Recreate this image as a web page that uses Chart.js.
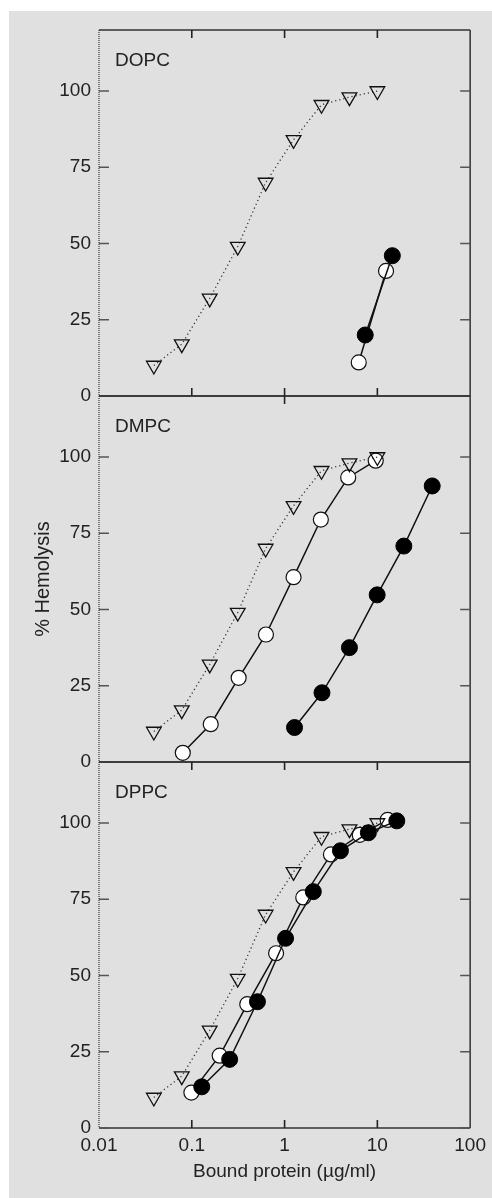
<!DOCTYPE html>
<html>
<head>
<meta charset="utf-8">
<script src="https://cdn.jsdelivr.net/npm/chart.js@4"></script>
<style>
  html, body { margin: 0; padding: 0; background: #fff; }
  #bg { position: absolute; left: 9px; top: 11px; width: 483px; height: 1187px; background: #e0e0e0; }
  #chart { position: absolute; left: 0; top: 0; }
</style>
</head>
<body>
<div id="bg"></div>
<canvas id="chart" width="492" height="1198"></canvas>
<script>
// tick labels
const xTicks = [0.01, 0.1, 1, 10, 100];
const yTicks = [0, 25, 50, 75, 100];
const panels = ['DOPC', 'DMPC', 'DPPC'];

// control (triangles), same in every panel
const triX = [0.039, 0.078, 0.156, 0.313, 0.625, 1.25, 2.5, 5, 10];
const triY = [10, 17, 32, 49, 70, 84, 95.5, 98, 100];

// DOPC
const dopcOpenX = [6.3, 12.4];
const dopcOpenY = [11, 41];
const dopcFillX = [7.4, 14.5];
const dopcFillY = [20, 46];

// DMPC
const dmpcOpenX = [0.08, 0.16, 0.32, 0.63, 1.25, 2.46, 4.85, 9.6];
const dmpcOpenY = [3, 12.4, 27.6, 41.8, 60.6, 79.5, 93.3, 98.8];
const dmpcFillX = [1.28, 2.53, 5.0, 9.95, 19.3, 39];
const dmpcFillY = [11.3, 22.7, 37.5, 54.8, 70.8, 90.5];

// DPPC
const dppcOpenX = [0.099, 0.2, 0.396, 0.81, 1.59, 3.16, 6.46, 12.9];
const dppcOpenY = [11.6, 23.7, 40.6, 57.3, 75.6, 89.7, 96.1, 101];
const dppcFillX = [0.128, 0.256, 0.51, 1.025, 2.04, 4.0, 8.0, 16.2];
const dppcFillY = [13.5, 22.5, 41.4, 62.2, 77.5, 90.9, 96.8, 100.7];

const pts = (xs, ys) => xs.map((x, i) => ({x, y: ys[i]}));
const FONT = "'Liberation Sans', Arial, sans-serif";
const INK = '#222';

function tri(axis) {
  return {
    data: pts(triX, triY), yAxisID: axis, order: 2,
    showLine: true, borderColor: '#333', borderWidth: 1.3, borderDash: [1.2, 3],
    pointStyle: 'triangle', rotation: 180, pointRadius: 8.5,
    pointBackgroundColor: 'rgba(0,0,0,0)', pointBorderColor: '#111', pointBorderWidth: 1.3
  };
}
function open(xs, ys, axis) {
  return {
    data: pts(xs, ys), yAxisID: axis, order: 3,
    showLine: true, borderColor: '#111', borderWidth: 1.5,
    pointRadius: 7.5, pointBackgroundColor: '#fff', pointBorderColor: '#111', pointBorderWidth: 1.2
  };
}
function fill(xs, ys, axis) {
  return {
    data: pts(xs, ys), yAxisID: axis, order: 1,
    showLine: true, borderColor: '#111', borderWidth: 1.5,
    pointRadius: 8, pointBackgroundColor: '#000', pointBorderColor: '#000', pointBorderWidth: 1
  };
}

// which x ticks get short inward marks at the top / bottom of each panel
const topMarks = [[0.1, 1, 10], [1], [0.1, 1, 10]];
const bottomMarks = [[0.1, 1, 10], [], [0.1, 1, 10]];

const framePlugin = {
  id: 'frame',
  beforeDatasetsDraw(chart) {
    const ctx = chart.ctx;
    const xs = chart.scales.x;
    const {left, right} = chart.chartArea;
    ['y1', 'y2', 'y3'].forEach((id, i) => {
      const s = chart.scales[id];
      const top = s.top, bottom = s.bottom;
      ctx.save();
      ctx.strokeStyle = '#333';
      ctx.lineWidth = 1.5;
      ctx.beginPath();
      ctx.moveTo(left, top); ctx.lineTo(right, top);
      ctx.moveTo(left, bottom); ctx.lineTo(right, bottom);
      ctx.moveTo(right, top); ctx.lineTo(right, bottom);
      ctx.stroke();
      // left axis looks stippled
      ctx.lineWidth = 1.2;
      ctx.setLineDash([1, 1]);
      ctx.beginPath();
      ctx.moveTo(left, top); ctx.lineTo(left, bottom);
      ctx.stroke();
      ctx.setLineDash([]);
      // y ticks inside on both sides
      ctx.lineWidth = 1.3;
      ctx.strokeStyle = '#555';
      ctx.beginPath();
      yTicks.forEach(v => {
        const py = s.getPixelForValue(v);
        ctx.moveTo(left, py); ctx.lineTo(left + 10, py);
        ctx.moveTo(right, py); ctx.lineTo(right - 10, py);
      });
      ctx.stroke();
      // x ticks inside
      ctx.strokeStyle = '#222';
      ctx.lineWidth = 1.6;
      ctx.beginPath();
      topMarks[i].forEach(v => {
        const px = xs.getPixelForValue(v);
        ctx.moveTo(px, top); ctx.lineTo(px, top + 8);
      });
      bottomMarks[i].forEach(v => {
        const px = xs.getPixelForValue(v);
        ctx.moveTo(px, bottom); ctx.lineTo(px, bottom - 8);
      });
      ctx.stroke();
      // panel name
      ctx.fillStyle = INK;
      ctx.font = '19px ' + FONT;
      ctx.textBaseline = 'alphabetic';
      ctx.fillText(panels[i], left + 16, top + 36);
      ctx.restore();
    });
  }
};

function yAxis(weight, title) {
  return {
    type: 'linear', position: 'left', stack: 'panels', stackWeight: 1, weight,
    min: 0, max: 120,
    grid: { display: false, drawTicks: false },
    border: { display: false },
    ticks: { color: INK, padding: 8, font: { family: FONT, size: 19 } },
    afterBuildTicks: s => { s.ticks = yTicks.map(v => ({value: v})); },
    afterFit: s => { s.width = 99; },
    title: {
      display: !!title, text: title || '', color: INK,
      font: { family: FONT, size: 20 }, padding: { top: 31, bottom: 0 }
    }
  };
}

new Chart(document.getElementById('chart'), {
  type: 'scatter',
  data: {
    datasets: [
      tri('y1'), open(dopcOpenX, dopcOpenY, 'y1'), fill(dopcFillX, dopcFillY, 'y1'),
      tri('y2'), open(dmpcOpenX, dmpcOpenY, 'y2'), fill(dmpcFillX, dmpcFillY, 'y2'),
      tri('y3'), open(dppcOpenX, dppcOpenY, 'y3'), fill(dppcFillX, dppcFillY, 'y3')
    ]
  },
  options: {
    responsive: false,
    animation: false,
    layout: { padding: { top: 30, right: 19, left: 0, bottom: 0 } },
    plugins: { legend: { display: false }, tooltip: { enabled: false } },
    scales: {
      x: {
        type: 'logarithmic', position: 'bottom', min: 0.01, max: 100,
        grid: { display: false, drawTicks: false },
        border: { display: false },
        afterBuildTicks: s => { s.ticks = xTicks.map(v => ({value: v})); },
        afterFit: s => { s.height = 70; },
        ticks: {
          color: INK, padding: 6, maxRotation: 0, autoSkip: false,
          font: { family: FONT, size: 19 },
          callback: v => String(v)
        },
        title: {
          display: true, text: 'Bound protein (µg/ml)', color: INK,
          font: { family: FONT, size: 19 }, padding: { top: 0, bottom: 15 }
        }
      },
      y1: yAxis(3, ''),
      y2: yAxis(2, '% Hemolysis'),
      y3: yAxis(1, '')
    }
  },
  plugins: [framePlugin]
});
</script>
</body>
</html>
